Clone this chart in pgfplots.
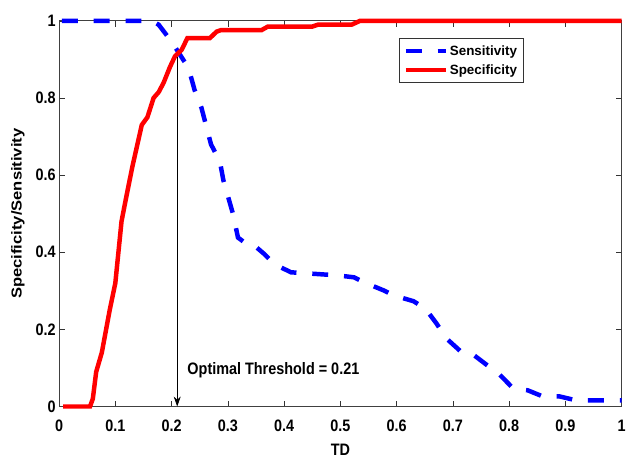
\documentclass[border=0pt]{standalone}
\usepackage{fontspec}
\setmainfont{Liberation Sans}
\usepackage{pgfplots}
\pgfplotsset{compat=1.18}
\usetikzlibrary{arrows.meta}
\definecolor{mblue}{rgb}{0,0,1}
\definecolor{mred}{rgb}{1,0,0}

\begin{document}
\begin{tikzpicture}
\begin{axis}[
  scale only axis, width=566pt, height=388pt,
  xmin=0, xmax=1, ymin=0, ymax=1,
  xtick={0,0.1,0.2,0.3,0.4,0.5,0.6,0.7,0.8,0.9,1},
  ytick={0,0.2,0.4,0.6,0.8,1},
  tick align=inside, major tick length=6pt,
  tick style={black!80, line width=0.6pt},
  axis line style={black!75, line width=0.8pt},
  /pgf/number format/assume math mode=true,
  tick label style={font=\fontsize{14.5}{16}\selectfont\bfseries, yscale=1.15},
  xticklabel style={yshift=-8pt},
  xlabel={TD}, ylabel={Specificity/Sensitivity},
  every axis x label/.style={at={(axis description cs:0.5,-0.112)}, anchor=center,
    font=\fontsize{14.5}{16}\selectfont\bfseries, yscale=1.15},
  every axis y label/.style={at={(axis description cs:-0.073,0.5)}, anchor=center, rotate=90,
    font=\fontsize{14.5}{16}\selectfont\bfseries, xscale=1.15},
  legend cell align=left,
  legend style={at={(axis cs:0.825,0.955)}, anchor=north east,
    font=\fontsize{13.5}{15}\selectfont\bfseries, draw=black!80, line width=0.6pt,
    inner xsep=4pt, inner ysep=5pt, row sep=4pt},
  legend image code/.code={\draw[#1] (0pt,0pt) -- (40pt,0pt);},
  clip=false,
]
\path (rel axis cs:-0.105,-0.144) rectangle (rel axis cs:1.0053,1.054);

\addplot[mblue, line width=4.5pt, dash pattern=on 16pt off 16pt] coordinates {
(0.005,1) (0.165,1) (0.177,0.99) (0.2,0.946) (0.23,0.878) (0.241,0.82)
(0.253,0.775) (0.27,0.68) (0.286,0.634) (0.292,0.587) (0.309,0.50)
(0.318,0.438) (0.33,0.425) (0.345,0.42) (0.365,0.395) (0.383,0.369)
(0.412,0.348) (0.495,0.34) (0.524,0.335) (0.542,0.322) (0.577,0.301)
(0.595,0.288) (0.63,0.273) (0.651,0.254) (0.671,0.215) (0.688,0.177)
(0.713,0.144) (0.733,0.138) (0.76,0.108) (0.783,0.083) (0.807,0.047)
(0.833,0.042) (0.86,0.026) (0.89,0.026) (0.919,0.016) (1,0.016)};
\addlegendentry{Sensitivity}

\addplot[mred, line width=4.5pt] coordinates {
(0.007,0) (0.055,0) (0.06,0.02) (0.066,0.09) (0.076,0.14) (0.09,0.25)
(0.1,0.32) (0.111,0.48) (0.119,0.54) (0.13,0.62) (0.147,0.73)
(0.157,0.75) (0.168,0.80) (0.177,0.815) (0.186,0.84) (0.197,0.88)
(0.206,0.908) (0.218,0.925) (0.228,0.955) (0.268,0.955) (0.28,0.972)
(0.288,0.976) (0.36,0.976) (0.371,0.985) (0.45,0.985) (0.46,0.99)
(0.52,0.99) (0.535,1) (1,1)};
\addlegendentry{Specificity}

\draw[black, line width=0.7pt, -{Stealth[length=10pt,width=7pt]}] (axis cs:0.21,0.905) -- (axis cs:0.21,0);
\node[anchor=west, font=\fontsize{14.5}{16}\selectfont\bfseries, yscale=1.15] at (axis cs:0.222,0.095) {Optimal Threshold = 0.21};
\end{axis}
\end{tikzpicture}
\end{document}
